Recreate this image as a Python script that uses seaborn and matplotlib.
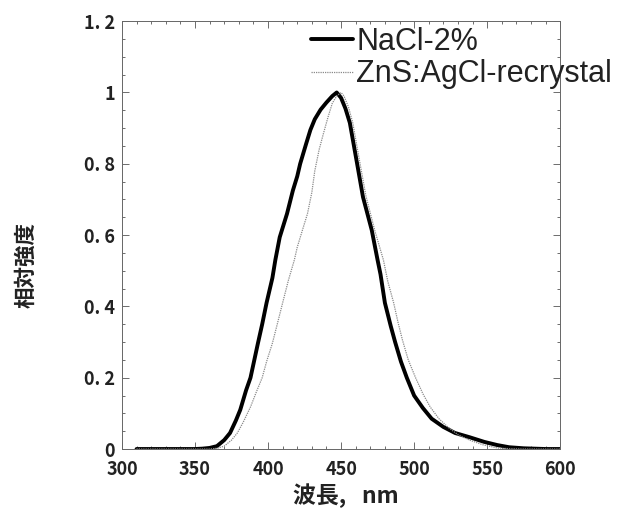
import numpy as np
import pandas as pd
import matplotlib
matplotlib.use("Agg")
import matplotlib.pyplot as plt
import seaborn as sns
from matplotlib.ticker import FixedLocator, MultipleLocator

# NaCl-2% (thick black line)
nacl_wl = [310, 320, 330, 340, 350, 355, 360, 365, 370, 374, 378, 381, 385, 388, 393, 396,
           399, 403, 405, 408, 413, 417, 420, 422, 426, 429, 432, 436, 440, 444, 447, 450,
           453, 456, 461, 465, 471, 475, 477, 480, 484, 487, 491, 495, 500, 506, 512, 520,
           528, 538, 548, 557, 565, 575, 590, 600]
nacl_int = [0, 0, 0, 0, 0, 0.001, 0.003, 0.008, 0.025, 0.045, 0.08, 0.11, 0.165, 0.20, 0.295, 0.35,
            0.41, 0.48, 0.53, 0.594, 0.66, 0.725, 0.765, 0.80, 0.855, 0.895, 0.925, 0.952, 0.972, 0.99, 1.0, 0.985,
            0.955, 0.915, 0.80, 0.707, 0.614, 0.53, 0.49, 0.41, 0.345, 0.30, 0.245, 0.20, 0.15, 0.115, 0.085, 0.062,
            0.045, 0.033, 0.02, 0.011, 0.005, 0.002, 0.0, 0.0]

# ZnS:AgCl-recrystal (thin grey dotted line)
zns_wl = [310, 330, 350, 360, 365, 370, 375, 379, 383, 388, 392, 396, 399, 403, 406, 410,
          414, 418, 420, 424, 427, 430, 432, 435, 438, 441, 444, 447, 450, 452, 455, 458,
          463, 467, 473, 479, 482, 486, 489, 492, 496, 501, 506, 511, 517, 523, 530, 538,
          547, 557, 565, 575, 600]
zns_int = [0, 0, 0, 0, 0.002, 0.008, 0.025, 0.045, 0.075, 0.118, 0.16, 0.20, 0.245, 0.297, 0.345, 0.41,
           0.474, 0.53, 0.566, 0.62, 0.66, 0.72, 0.78, 0.84, 0.886, 0.93, 0.97, 0.99, 1.0, 0.99, 0.96, 0.915,
           0.80, 0.71, 0.614, 0.53, 0.47, 0.41, 0.355, 0.306, 0.25, 0.20, 0.155, 0.118, 0.085, 0.062, 0.04, 0.025,
           0.012, 0.003, 0.001, 0, 0]

x_ticks = [300, 350, 400, 450, 500, 550, 600]
x_labels = ["300", "350", "400", "450", "500", "550", "600"]
y_ticks = [0, 0.2, 0.4, 0.6, 0.8, 1.0, 1.2]
y_labels = ["0", "0. 2", "0. 4", "0. 6", "0. 8", "1", "1. 2"]

sns.set_style("ticks")
plt.rcParams['font.family'] = ['Noto Sans CJK JP', 'DejaVu Sans']

fig = plt.figure(figsize=(6.19, 5.17), dpi=100)
ax = fig.add_axes([0.197, 0.1315, 0.708, 0.8275])

sns.lineplot(x=nacl_wl, y=nacl_int, ax=ax, color="black", linewidth=2.8, label="NaCl-2%")
sns.lineplot(x=zns_wl, y=zns_int, ax=ax, color="#8a8a8a", linewidth=0.9,
             linestyle=(0, (1, 0.8)), label="ZnS:AgCl-recrystal")

ax.set_xlim(300, 600)
ax.set_ylim(0, 1.2)
ax.xaxis.set_major_locator(FixedLocator(x_ticks))
ax.yaxis.set_major_locator(FixedLocator(y_ticks))
ax.set_xticklabels(x_labels)
ax.set_yticklabels(y_labels)
ax.xaxis.set_minor_locator(MultipleLocator(10))
ax.yaxis.set_minor_locator(MultipleLocator(0.05))
ax.tick_params(which="both", direction="in", top=True, right=True, color="#555555", width=0.6)
ax.tick_params(which="major", length=5)
ax.tick_params(which="minor", length=2.5)
ax.tick_params(axis="y", which="major", pad=5)
ax.tick_params(axis="x", which="major", pad=8)
for lab in ax.get_xticklabels() + ax.get_yticklabels():
    lab.set_fontsize(13)
    lab.set_fontweight("bold")
    lab.set_color("#222222")
for sp in ax.spines.values():
    sp.set_color("#666666")
    sp.set_linewidth(0.7)

ax.set_xlabel("波長,   nm", fontsize=16.5, fontweight="bold", color="#222222")
ax.set_ylabel("相対強度", fontsize=15.5, fontweight="bold", color="#222222")
ax.xaxis.set_label_coords(0.51, -0.08)
ax.yaxis.set_label_coords(-0.195, 0.43)

leg = ax.legend(loc="upper left", bbox_to_anchor=(0.503, 0.948), bbox_transform=fig.transFigure,
                frameon=False, borderpad=0, borderaxespad=0, handlelength=1.35,
                handletextpad=0.12, labelspacing=0.08,
                prop={"family": "Liberation Sans", "size": 22})
for t in leg.get_texts():
    t.set_color("#222222")

fig.savefig("out.png", dpi=100, facecolor="white")
